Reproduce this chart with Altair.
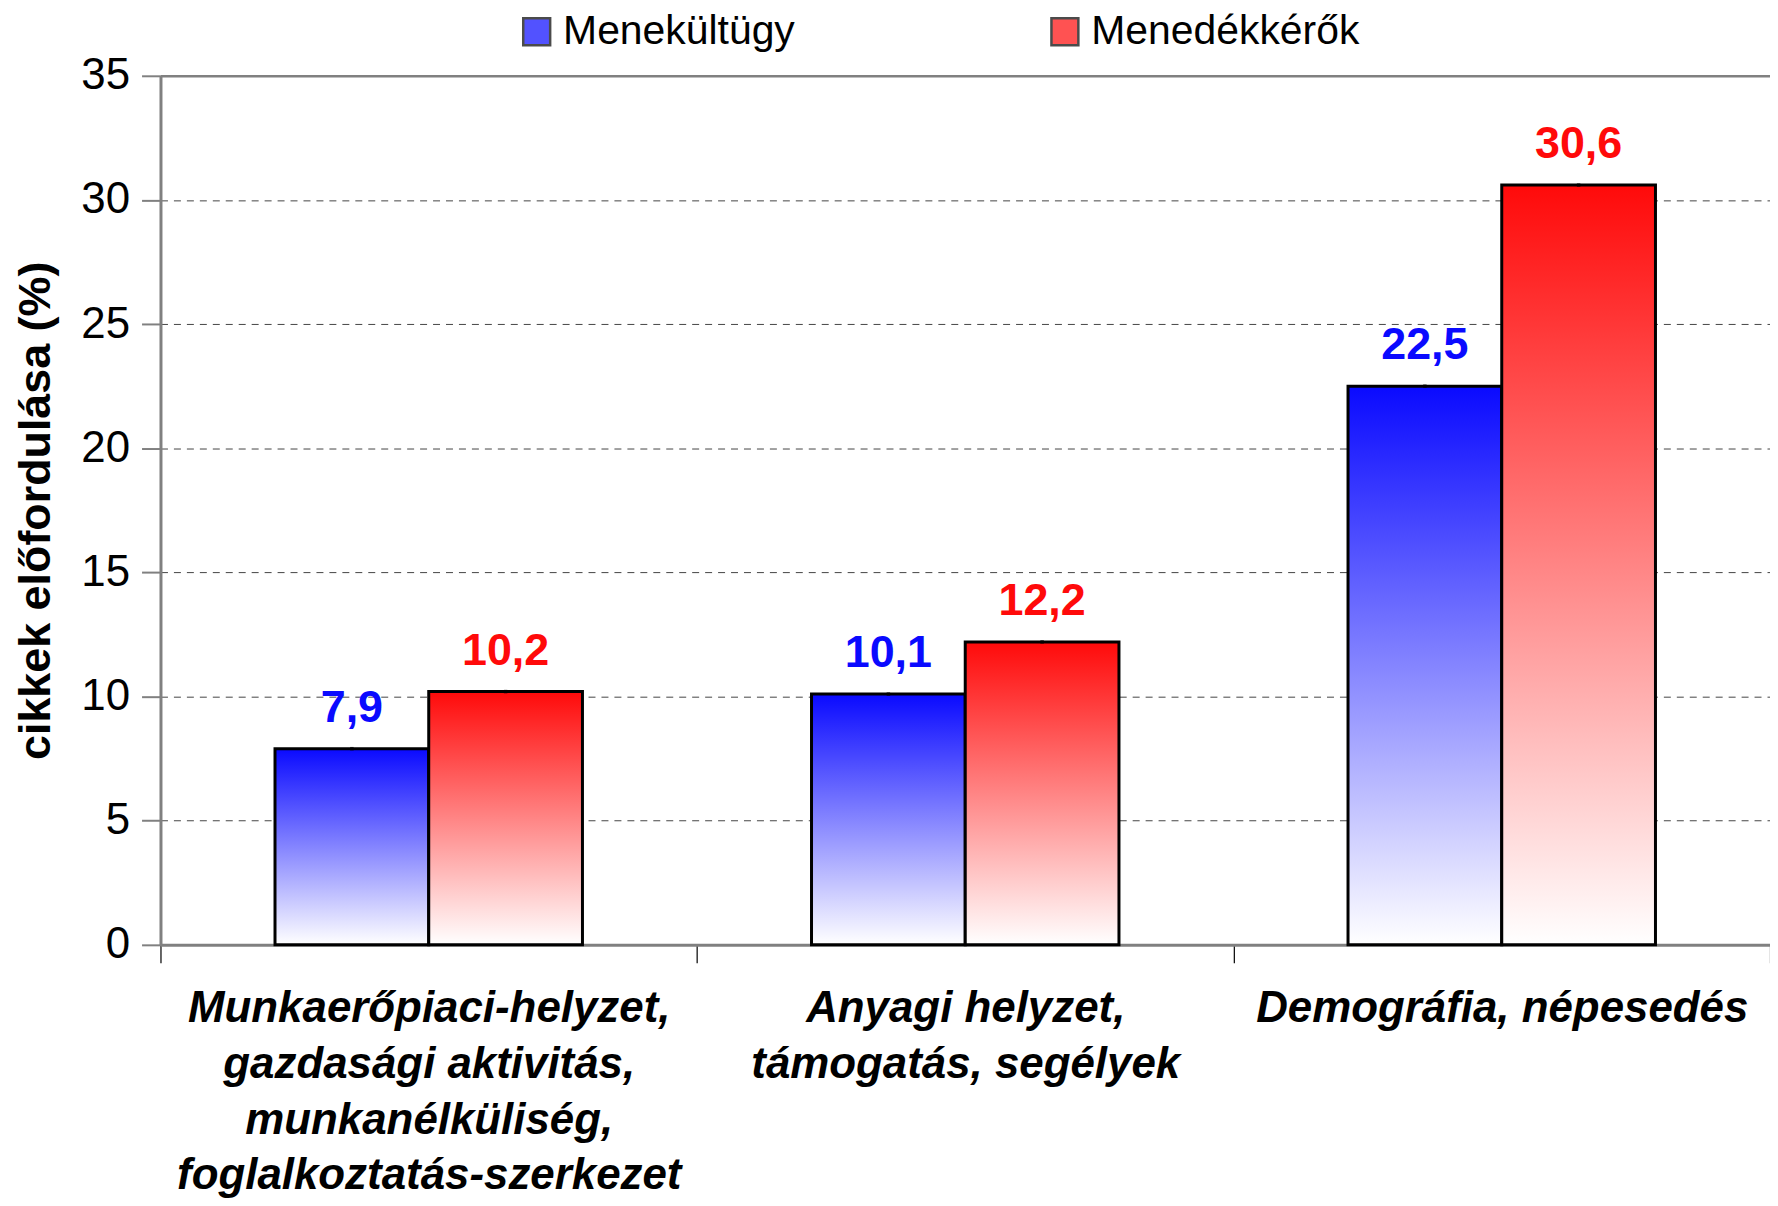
import altair as alt
import pandas as pd

categories = [
    "Munkaerőpiaci-helyzet,|gazdasági aktivitás,|munkanélküliség,|foglalkoztatás-szerkezet",
    "Anyagi helyzet,|támogatás, segélyek",
    "Demográfia, népesedés",
]
series = ["Menekültügy", "Menedékkérők"]
values_menekultugy = [7.9, 10.1, 22.5]
values_menedekkerok = [10.2, 12.2, 30.6]
series_colors = ["#0a0aff", "#ff0a0a"]
y_ticks = [0, 5, 10, 15, 20, 25, 30, 35]

rows = []
for c, v in zip(categories, values_menekultugy):
    rows.append({"cat": c, "series": series[0], "value": v})
for c, v in zip(categories, values_menedekkerok):
    rows.append({"cat": c, "series": series[1], "value": v})
df = pd.DataFrame(rows)

FONT = "Liberation Sans"

x_enc = alt.X(
    "cat:N",
    sort=categories,
    scale=alt.Scale(domain=categories, paddingInner=0, paddingOuter=0),
    axis=alt.Axis(
        title=None,
        labelExpr="split(datum.label, '|')",
        labelAngle=0,
        labelFont=FONT,
        labelFontSize=44,
        labelFontWeight="bold",
        labelFontStyle="italic",
        labelColor="#000000",
        labelLineHeight=56,
        labelPadding=24,
        labelBaseline="top",
        labelLimit=1000,
        tickBand="extent",
        ticks=True,
        tickSize=18,
        tickColor="#000000",
        tickWidth=1.2,
        domainColor="#808080",
        domainWidth=3,
        grid=False,
    ),
)
y_enc = alt.Y(
    "value:Q",
    scale=alt.Scale(domain=[0, 35], nice=False),
    axis=alt.Axis(
        title="cikkek előfordulása (%)",
        titleFont=FONT,
        titleFontSize=45,
        titleFontWeight="bold",
        titleColor="#000000",
        titlePadding=22,
        values=y_ticks,
        labelFont=FONT,
        labelFontSize=44,
        labelColor="#000000",
        labelPadding=12,
        tickSize=19,
        tickColor="#808080",
        tickWidth=2,
        domainColor="#808080",
        domainWidth=3,
        grid=True,
        gridColor={"condition": {"test": "datum.value === 35", "value": "#808080"}, "value": "#444444"},
        gridDash={"condition": {"test": "datum.value === 35", "value": []}, "value": [7, 6]},
        gridWidth={"condition": {"test": "datum.value === 35", "value": 2.5}, "value": 1},
    ),
)
xoff = alt.XOffset(
    "series:N",
    sort=series,
    scale=alt.Scale(domain=series, paddingInner=0, paddingOuter=0.745),
)


def grad(color):
    return alt.LinearGradient(
        gradient="linear",
        x1=0, y1=0, x2=0, y2=1,
        stops=[
            alt.GradientStop(offset=0, color=color),
            alt.GradientStop(offset=1, color="#ffffff"),
        ],
    )


base = alt.Chart(df)
bar_layers = []
for s, col in zip(series, series_colors):
    bar_layers.append(
        base.transform_filter(alt.datum.series == s)
        .mark_bar(color=grad(col), stroke="#000000", strokeWidth=3)
        .encode(x=x_enc, y=y_enc, xOffset=xoff)
    )

sym_fill = (
    "datum.value === '" + series[0] + "' ? "
    "{gradient: 'linear', x1: 0, y1: 0, x2: 0, y2: 1, stops: [{offset: 0, color: '" + series_colors[0] + "'}, {offset: 1, color: '#ffffff'}]}"
    " : {gradient: 'linear', x1: 0, y1: 0, x2: 0, y2: 1, stops: [{offset: 0, color: '" + series_colors[1] + "'}, {offset: 1, color: '#ffffff'}]}"
)

# legend carrier: tiny black points sitting on the black top edge of each bar
legend_layer = base.mark_point(filled=False, size=1, color="#000000", strokeWidth=2.5).encode(
    x=x_enc,
    y=y_enc,
    xOffset=xoff,
    shape=alt.Shape(
        "series:N",
        sort=series,
        scale=alt.Scale(domain=series, range=["square", "square"]),
        legend=alt.Legend(
            title=None,
            orient="none",
            direction="horizontal",
            legendX=357,
            legendY=-65,
            symbolType="square",
            symbolSize=729,
            symbolStrokeColor="#000000",
            symbolStrokeWidth=2.5,
            symbolFillColor=alt.ExprRef(expr=sym_fill),
            labelFont=FONT,
            labelFontSize=41,
            labelColor="#000000",
            labelOffset=6,
            labelLimit=500,
            columnPadding=250,
        ),
    ),
)

labels = (
    base.transform_calculate(lbl="replace(format(datum.value, '.1f'), '.', ',')")
    .mark_text(font=FONT, fontSize=45, fontWeight="bold", baseline="alphabetic", dy=-27)
    .encode(
        x=x_enc,
        y=y_enc,
        xOffset=xoff,
        text="lbl:N",
        color=alt.Color(
            "series:N",
            sort=series,
            scale=alt.Scale(domain=series, range=series_colors),
            legend=None,
        ),
    )
)

chart = (
    alt.layer(*bar_layers, legend_layer, labels)
    .properties(
        width=1615,
        height=872,
        padding={"left": 153, "top": 66, "right": 0, "bottom": 252},
        autosize=alt.AutoSizeParams(type="none"),
        background="#ffffff",
    )
    .configure_view(stroke=None)
)

chart.save("out.html", embed_options={"renderer": "svg", "actions": False})
